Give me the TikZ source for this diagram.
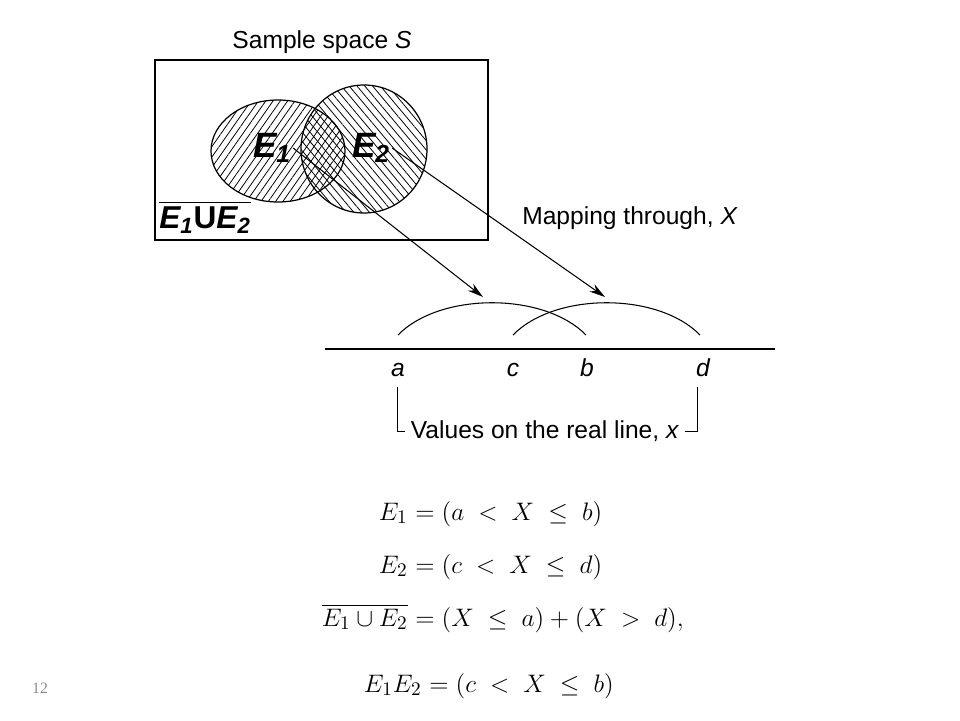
\documentclass[tikz,border=0pt]{standalone}
\usepackage{amsmath}
\usepackage{fontspec}
\setsansfont{Liberation Sans}
\newfontfamily\pagefont{Liberation Serif}
\usepackage{tikz}
\usetikzlibrary{arrows.meta, patterns.meta, positioning}

\tikzset{
  lbl/.style={font=\sffamily\fontsize{14}{16}\selectfont},
  evt/.style={font=\sffamily\bfseries\itshape\fontsize{20}{22}\selectfont, inner sep=1pt},
  pnt/.style={font=\sffamily\itshape\fontsize{14}{16}\selectfont, anchor=base},
  mapto/.style={-{Stealth[length=9pt,width=5pt]}, line width=0.6pt},
  lhs/.style={font=\fontsize{15}{18}\selectfont, anchor=base east, inner sep=0pt},
  rhs/.style={font=\fontsize{15}{18}\selectfont, anchor=base west, inner sep=0pt},
}

\begin{document}
\begin{tikzpicture}[x=0.02cm, y=-0.02cm]
    \useasboundingbox (0,0) rectangle (960,720);

    % Sample space
    \draw[line width=0.7pt] (155,60) rectangle (488,240);
    \node[lbl] (space) at (322,42) {Sample space \textit{S}};

    % Events E1 and E2 (hatched, cross-hatched where they meet)
    \fill[pattern={Lines[angle=55,distance=3.4pt,line width=0.45pt]}] (278,151) ellipse (67 and 51);
    \fill[pattern={Lines[angle=-50,distance=3.4pt,line width=0.45pt]}] (364,149) ellipse (63 and 64);
    \draw[line width=0.7pt] (278,151) ellipse (67 and 51);
    \draw[line width=0.7pt] (364,149) ellipse (63 and 64);

    \node[evt] (e1) at (272,148) {E\textsubscript{1}};
    \node[evt] (e2) at (371,148) {E\textsubscript{2}};
    \node[evt, font=\sffamily\bfseries\itshape\fontsize{18}{22}\selectfont] (rest) at (205,217)
        {$\overline{\mbox{E\textsubscript{1}\upshape U\itshape E\textsubscript{2}}}$};

    % Mapping
    \node[lbl] (map) at (630,218) {Mapping through, \textit{X}};
    \coordinate (hit1) at (483,297);
    \coordinate (hit2) at (605,297);
    \draw[mapto] (e1.east) -- (hit1);
    \draw[mapto] (e2.east) -- (hit2);

    % Intervals on the real line
    \draw[line width=0.6pt] (398,335) .. controls (440,292) and (544,292) .. (586,335);
    \draw[line width=0.6pt] (513,335) .. controls (555,292) and (658,292) .. (700,335);
    \draw[line width=1.6pt] (325,349) -- (775,349);

    \node[pnt] (a) at (398,376) {a};
    \node[pnt] (c) at (513,376) {c};
    \node[pnt] (b) at (587,376) {b};
    \node[pnt] (d) at (703,376) {d};

    \node[lbl] (vals) at (545,431) {Values on the real line, \textit{x}};
    \draw[line width=0.5pt] (397,387) |- (vals.west);
    \draw[line width=0.5pt] (697,387) |- (vals.east);

    % Events as intervals
    \node[lhs] (l1) at (408,520) {$E_1$};
    \node[rhs] (r1) at (408,520) {${}= (a \;<\; X \;\le\; b)$};
    \node[lhs] (l2) at (408,573) {$E_2$};
    \node[rhs] (r2) at (408,573) {${}= (c \;<\; X \;\le\; d)$};
    \node[lhs] (l3) at (408,626) {$\overline{E_1 \cup E_2}$};
    \node[rhs] (r3) at (408,626) {${}= (X \;\le\; a) + (X \;>\; d),$};
    \node[lhs] (l4) at (422,692) {$E_1 E_2$};
    \node[rhs] (r4) at (422,692) {${}= (c \;<\; X \;\le\; b)$};

    % Page number
    \node[font=\pagefont\fontsize{9}{10}\selectfont, text=black!45] (page) at (40,688) {12};
\end{tikzpicture}
\end{document}
